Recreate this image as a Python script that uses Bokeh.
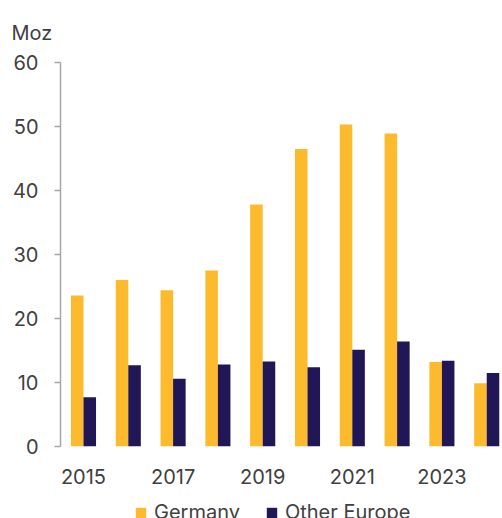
from bokeh.plotting import figure
from bokeh.layouts import column
from bokeh.models import ColumnDataSource, FixedTicker, Legend, LegendItem, Range1d
from bokeh.embed import file_html
from bokeh.resources import INLINE

years = [2015, 2016, 2017, 2018, 2019, 2020, 2021, 2022, 2023, 2024]
germany = [23.6, 26.0, 24.4, 27.5, 37.8, 46.5, 50.3, 48.9, 13.2, 9.9]
other_europe = [7.7, 12.7, 10.6, 12.8, 13.3, 12.4, 15.1, 16.4, 13.4, 11.5]
series_names = ["Germany", "Other Europe"]
x_tick_years = [2015, 2017, 2019, 2021, 2023]
y_ticks = [0, 10, 20, 30, 40, 50, 60]

FONT = "Inter"
TXT = "#404040"
C_GER = "#FDBA2C"
C_OTH = "#211756"

bw = 0.28
src = ColumnDataSource(dict(
    xg=[y - bw / 2 for y in years],
    xo=[y + bw / 2 for y in years],
    ger=germany, oth=other_europe,
))

p = figure(frame_width=441, frame_height=384, output_backend="svg", toolbar_location=None,
           x_range=Range1d(2014.487, 2024.33), y_range=Range1d(0, 60),
           min_border_left=0, min_border_right=0, min_border_top=0,
           min_border_bottom=0, title="Moz")

p.vbar(x="xg", top="ger", width=bw, source=src, color=C_GER, line_color=None)
p.vbar(x="xo", top="oth", width=bw, source=src, color=C_OTH, line_color=None)

p.outline_line_color = None
p.xgrid.grid_line_color = None
p.ygrid.grid_line_color = None

p.title.text_font = FONT
p.title.text_font_size = "20px"
p.title.text_font_style = "normal"
p.title.text_color = TXT
p.title.align = "left"
p.title.offset = -49
p.title.standoff = 36

ya = p.yaxis[0]
ya.ticker = FixedTicker(ticks=y_ticks)
ya.axis_line_color = "#A6A6A6"
ya.axis_line_width = 1.5
ya.major_tick_line_color = "#A6A6A6"
ya.major_tick_line_width = 1.5
ya.major_tick_out = 6
ya.major_tick_in = 0
ya.minor_tick_line_color = None
ya.major_label_text_font = FONT
ya.major_label_text_font_size = "20px"
ya.major_label_text_color = TXT
ya.major_label_standoff = 16
ya.axis_label = " "
ya.axis_label_text_font_size = "2px"
ya.axis_label_standoff = 4

xa = p.xaxis[0]
xa.ticker = FixedTicker(ticks=x_tick_years)
xa.axis_line_color = None
xa.major_tick_line_color = None
xa.minor_tick_line_color = None
xa.major_label_text_font = FONT
xa.major_label_text_font_size = "20px"
xa.major_label_text_color = TXT
xa.major_label_standoff = 16
xa.axis_label = " "
xa.axis_label_text_font_size = "2px"
xa.axis_label_standoff = 2

# legend strip below the chart (its bars lie far outside its visible ranges)
p2 = figure(width=494, height=44, output_backend="svg", toolbar_location=None,
            x_range=Range1d(0, 1), y_range=Range1d(-20, -10),
            x_axis_type=None, y_axis_type=None,
            min_border_left=0, min_border_right=0, min_border_top=0,
            min_border_bottom=0)
p2.outline_line_color = None
p2.xgrid.grid_line_color = None
p2.ygrid.grid_line_color = None
p2.background_fill_alpha = 0
p2.border_fill_alpha = 0
d1 = p2.vbar(x="xg", top="ger", width=bw, source=src, color=C_GER, line_color=None)
d2 = p2.vbar(x="xo", top="oth", width=bw, source=src, color=C_OTH, line_color=None)

legend = Legend(items=[LegendItem(label=series_names[0], renderers=[d1]),
                       LegendItem(label=series_names[1], renderers=[d2])],
                orientation="horizontal", location=(74, 13),
                label_text_font=FONT, label_text_font_size="20px",
                label_text_color=TXT, glyph_width=13, glyph_height=13,
                label_standoff=7, spacing=25, padding=0, margin=0,
                border_line_color=None, background_fill_alpha=0)
p2.add_layout(legend, "center")

layout = column(p, p2, spacing=0)
open("out.html", "w").write(file_html(layout, INLINE))
